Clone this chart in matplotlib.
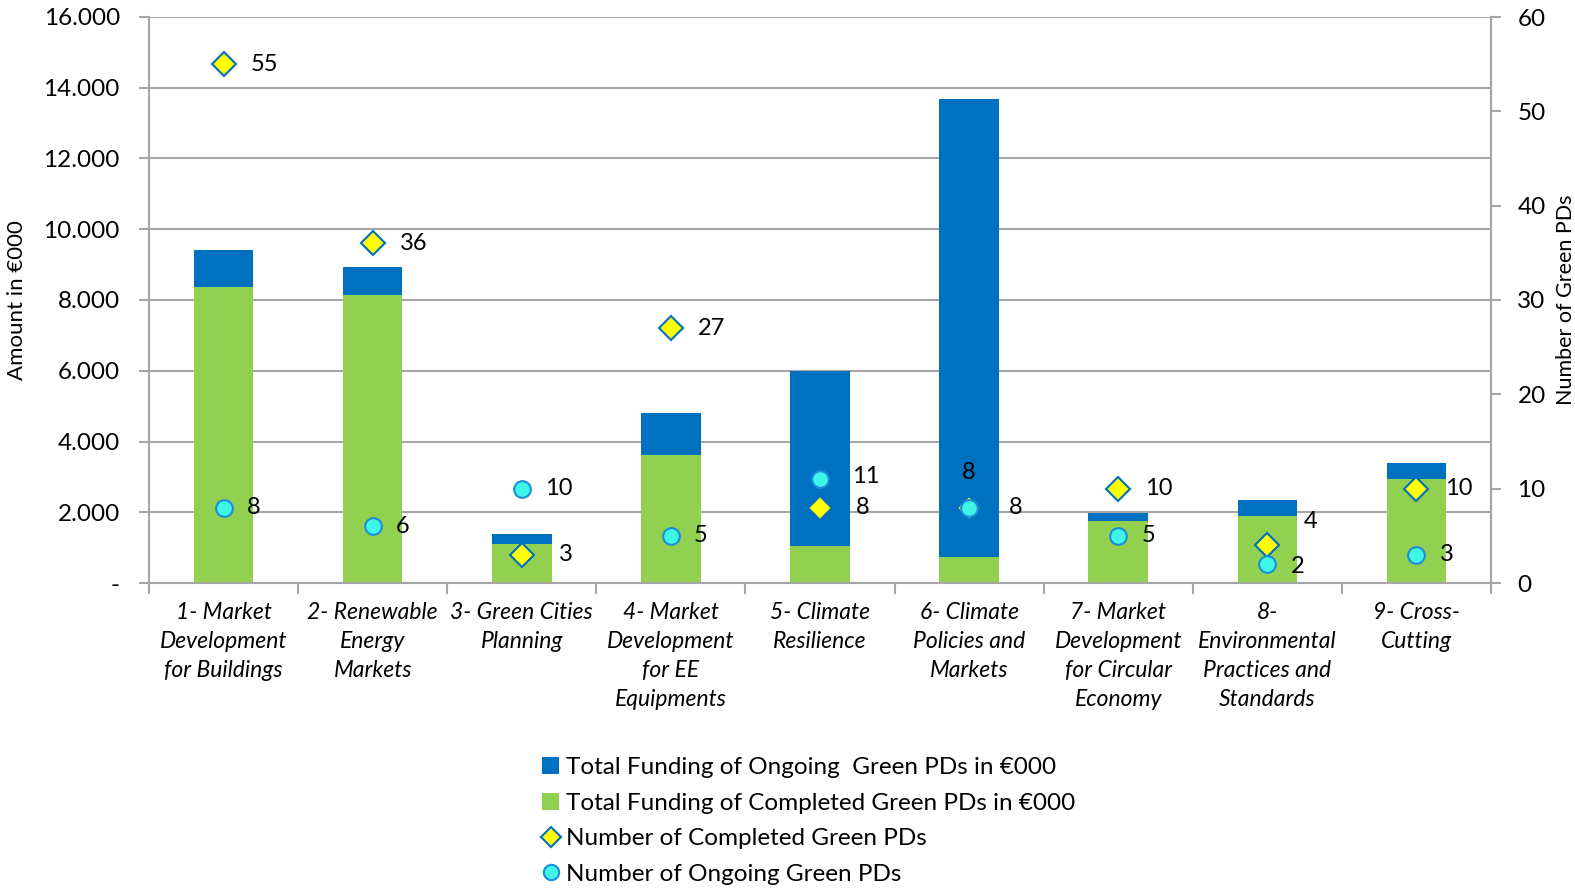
import matplotlib
matplotlib.use("Agg")
import matplotlib.pyplot as plt
import numpy as np
from matplotlib.ticker import FuncFormatter, FixedLocator
from matplotlib.lines import Line2D
from matplotlib.patches import Patch

categories = [
    "1- Market\nDevelopment\nfor Buildings",
    "2- Renewable\nEnergy\nMarkets",
    "3- Green Cities\nPlanning",
    "4- Market\nDevelopment\nfor EE\nEquipments",
    "5- Climate\nResilience",
    "6- Climate\nPolicies and\nMarkets",
    "7- Market\nDevelopment\nfor Circular\nEconomy",
    "8-\nEnvironmental\nPractices and\nStandards",
    "9- Cross-\nCutting",
]
completed_funding = [8380, 8130, 1110, 3610, 1050, 740, 1760, 1900, 2930]
ongoing_funding = [1020, 790, 280, 1190, 4950, 12930, 230, 460, 450]
completed_count = [55, 36, 3, 27, 8, 8, 10, 4, 10]
ongoing_count = [8, 6, 10, 5, 11, 8, 5, 2, 3]

FONT = "Lato"
plt.rcParams["font.family"] = [FONT, "DejaVu Sans"]

BLUE = "#0070C0"
GREEN = "#92D050"
GRID = "#A6A6A6"

fig = plt.figure(figsize=(15.75, 8.89), dpi=100)
L, R = 149, 1491
ax = fig.add_axes([L / 1575, 1 - 583 / 889, (R - L) / 1575, (583 - 17) / 889])
x = np.arange(len(categories))
w = 0.40
ax.bar(x, completed_funding, w, color=GREEN, zorder=2)
ax.bar(x, ongoing_funding, w, bottom=completed_funding, color=BLUE, zorder=2)
ax.set_xlim(-0.5, len(categories) - 0.5)
ax.set_ylim(0, 16000)
ax.set_yticks(np.arange(0, 16001, 2000))
ax.yaxis.set_major_formatter(FuncFormatter(lambda v, p: "-" if v == 0 else f"{int(v):,}".replace(",", ".")))
ax.grid(axis="y", color=GRID, linewidth=1.5, zorder=0)
ax.set_axisbelow(True)
ax.spines["top"].set_visible(False)
for s in ["left", "bottom", "right"]:
    ax.spines[s].set_color(GRID)
    ax.spines[s].set_linewidth(1.5)
ax.tick_params(axis="y", labelsize=17.5, length=7, color=GRID, width=1.5, pad=14)
ax.set_xticks(x)
ax.set_xticklabels(categories, fontsize=16.5, style="italic", linespacing=1.47)
ax.tick_params(axis="x", which="major", length=0, pad=14)
ax.xaxis.set_minor_locator(FixedLocator(np.arange(-0.5, len(categories), 1.0)))
ax.tick_params(axis="x", which="minor", length=8, color=GRID, width=1.5)
ax.set_ylabel("Amount in €000", fontsize=16)
ax.yaxis.set_label_coords((27 - L) / (R - L), 0.5)

ax2 = ax.twinx()
ax2.set_ylim(0, 60)
ax2.set_yticks(np.arange(0, 61, 10))
ax2.tick_params(axis="y", labelsize=17.5, length=7, color=GRID, width=1.5, pad=12)
for s in ["top", "left", "bottom"]:
    ax2.spines[s].set_visible(False)
ax2.spines["right"].set_color(GRID)
ax2.spines["right"].set_linewidth(1.5)
ax2.set_ylabel("Number of Green PDs", fontsize=15.5)
ax2.yaxis.set_label_coords((1556 - L) / (R - L), 0.5)

ax2.plot(x, completed_count, linestyle="none", marker="D", markersize=12,
         markerfacecolor="#FFFF00", markeredgecolor=BLUE, markeredgewidth=1.5, zorder=3)
ax2.plot(x, ongoing_count, linestyle="none", marker="o", markersize=12,
         markerfacecolor="#3FF5E8", markeredgecolor="#1A8FD8", markeredgewidth=1.5, zorder=4)

# label offsets (pixels)
comp_off = {i: (27, 0) for i in range(len(categories))}
ong_off = {i: (23, 0) for i in range(len(categories))}
comp_off.update({2: (37, 0), 4: (36, 0), 5: (40, 0), 7: (36, 24), 8: (29, 0)})
ong_off.update({4: (32, 3), 5: (0, 35), 7: (24, -2)})
for i in range(len(categories)):
    dx, dy = comp_off[i]
    ax2.annotate(str(completed_count[i]), (x[i], completed_count[i]), xytext=(dx, dy),
                 textcoords="offset pixels", ha="center" if dx == 0 else "left",
                 va="center", fontsize=17, zorder=5)
    dx, dy = ong_off[i]
    ax2.annotate(str(ongoing_count[i]), (x[i], ongoing_count[i]), xytext=(dx, dy),
                 textcoords="offset pixels", ha="center" if dx == 0 else "left",
                 va="center", fontsize=17, zorder=5)

handles = [
    Patch(facecolor=BLUE, label="Total Funding of Ongoing  Green PDs in €000"),
    Patch(facecolor=GREEN, label="Total Funding of Completed Green PDs in €000"),
    Line2D([], [], linestyle="none", marker="D", markersize=10, markerfacecolor="#FFFF00",
           markeredgecolor=BLUE, markeredgewidth=1.5, label="Number of Completed Green PDs"),
    Line2D([], [], linestyle="none", marker="o", markersize=11, markerfacecolor="#3FF5E8",
           markeredgecolor="#1A8FD8", markeredgewidth=1.5, label="Number of Ongoing Green PDs"),
]
fig.legend(handles=handles, loc="upper left", bbox_to_anchor=(542 / 1575, 1 - 757 / 889),
           frameon=False, fontsize=17.5, handlelength=0.7, handleheight=0.7, handletextpad=0.3,
           labelspacing=0.6, borderpad=0, borderaxespad=0)

fig.savefig("out.png", dpi=100)
